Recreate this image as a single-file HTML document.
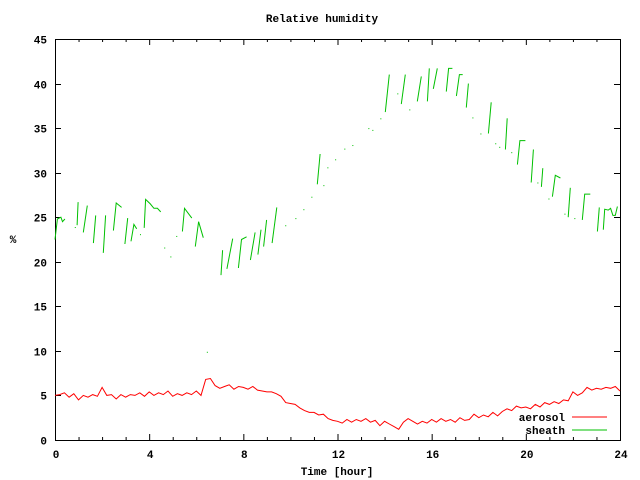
<!DOCTYPE html>
<html><head><meta charset="utf-8"><style>
html,body{margin:0;padding:0;background:#fff;}
svg{display:block;font-family:"Liberation Mono",monospace;font-size:11px;font-weight:bold;}
</style></head><body>
<svg id="chart" width="640" height="480" xmlns="http://www.w3.org/2000/svg">
<rect x="0" y="0" width="640" height="480" fill="#fff"/>
<text x="322" y="22" text-anchor="middle">Relative humidity</text>
<text x="337" y="475" text-anchor="middle">Time [hour]</text>
<text x="13" y="243" text-anchor="middle">%</text>
<g id="axes"></g>
<g id="series"></g>
<g>
<text x="565" y="421" text-anchor="end">aerosol</text>
<line x1="572" y1="417" x2="607" y2="417" stroke="#ff0000"/>
<text x="565" y="434" text-anchor="end">sheath</text>
<line x1="572" y1="430" x2="607" y2="430" stroke="#00c000"/>
</g>
</svg>
<script>
const xTicks=[0,4,8,12,16,20,24];
const yTicks=[0,5,10,15,20,25,30,35,40,45];
const aerosolTimes=[];for(let i=0;i<=120;i++)aerosolTimes.push(i*0.2);
const aerosolValues=[5.0,5.1,5.3,4.8,5.2,4.5,5.0,4.8,5.1,4.9,5.9,5.0,5.1,4.6,5.1,4.8,5.1,5.0,5.3,4.9,5.4,5.0,5.3,5.1,5.5,4.9,5.2,5.0,5.3,5.1,5.5,5.0,6.8,6.9,6.1,5.8,6.0,6.2,5.7,6.0,5.9,5.7,6.0,5.6,5.5,5.4,5.4,5.2,4.9,4.2,4.1,4.0,3.6,3.3,3.1,3.1,2.8,2.9,2.4,2.2,2.1,1.9,2.3,2.0,2.3,2.1,2.4,2.0,2.2,1.6,2.1,1.8,1.5,1.2,2.0,2.4,2.1,1.8,2.1,1.9,2.3,2.0,2.4,2.1,2.3,2.0,2.5,2.2,2.3,2.9,2.5,2.8,2.6,3.1,2.7,3.2,3.5,3.3,3.8,3.6,3.7,3.5,4.0,3.7,4.2,4.0,4.3,4.1,4.5,4.4,5.4,5.0,5.3,5.9,5.6,5.8,5.7,5.9,5.8,6.0,5.5];
const sheathSegments=[
[[0,22.5],[0.1,24.8],[0.25,25],[0.32,24.5],[0.42,24.8]],
[[0.84,23.9]],
[[0.94,24.1],[0.98,26.7]],
[[1.2,23.3],[1.37,26.3]],
[[1.63,22.1],[1.73,25.2]],
[[2.05,21.0],[2.15,25.2]],
[[2.48,23.5],[2.6,26.6],[2.83,26.1]],
[[2.97,22.0],[3.09,24.9]],
[[3.23,22.3],[3.35,24.2],[3.47,23.7]],
[[3.61,23.1]],
[[3.79,23.8],[3.85,27.0],[4.05,26.5],[4.2,26.0],[4.35,26.0],[4.49,25.6]],
[[4.64,21.6]],[[4.9,20.6]],[[5.15,22.9]],
[[5.41,23.4],[5.5,26.0],[5.81,24.9]],
[[5.96,21.7],[6.1,24.5],[6.3,22.7]],
[[6.45,9.9]],
[[7.05,18.5],[7.12,21.3]],
[[7.3,19.2],[7.55,22.6]],
[[7.79,19.3],[7.92,22.5],[8.14,22.8]],
[[8.3,20.2],[8.5,23.3]],
[[8.62,20.8],[8.75,23.6]],
[[8.86,21.7],[8.99,24.7]],
[[9.22,22.1],[9.42,26.1]],
[[9.78,24.1]],[[10.21,24.9]],[[10.55,25.9]],[[10.89,27.3]],
[[11.14,28.7],[11.26,32.1]],
[[11.4,28.6]],[[11.57,30.6]],[[11.9,31.5]],[[12.29,32.7]],[[12.63,33.1]],[[13.31,35.0]],[[13.48,34.8]],[[13.82,36.1]],
[[14.03,36.8],[14.2,41.0]],
[[14.54,38.9]],
[[14.71,37.7],[14.88,41.0]],
[[15.05,37.1]],
[[15.39,38.0],[15.56,40.8]],
[[15.82,38.0],[15.9,41.7]],
[[16.07,39.4],[16.24,41.7]],
[[16.62,39.1],[16.72,41.7],[16.88,41.7]],
[[17.05,38.6],[17.18,41.0],[17.32,41.0]],
[[17.47,37.3],[17.56,40.0]],
[[17.73,36.2]],[[18.07,34.4]],
[[18.41,34.4],[18.53,37.9]],
[[18.7,33.3]],[[18.87,32.9]],
[[19.13,32.6],[19.21,36.1]],
[[19.38,32.3]],
[[19.64,30.9],[19.75,33.6],[19.98,33.6]],
[[20.23,28.9],[20.32,32.6]],
[[20.49,28.9]],
[[20.66,28.4],[20.72,30.5]],
[[20.96,27.1]],
[[21.13,27.3],[21.25,29.7],[21.47,29.4]],
[[21.64,25.4]],
[[21.8,25.0],[21.89,28.3]],
[[22.06,24.9]],
[[22.4,24.7],[22.5,27.6],[22.74,27.6]],
[[23.04,23.4],[23.12,26.1]],
[[23.29,23.6],[23.35,25.9],[23.5,25.8],[23.6,26.0],[23.7,25.2],[23.8,25.2],[23.89,26.2]]
];
const L=55,R=620,T=39,B=440,XMAX=24,YMAX=45;
function sx(t){return L+(R-L)*t/XMAX;}
function sy(v){return B-(B-T)*v/YMAX;}
const NS="http://www.w3.org/2000/svg";
const axes=document.getElementById('axes');
const ser=document.getElementById('series');
function mk(tag,attrs,parent){const e=document.createElementNS(NS,tag);for(const k in attrs)e.setAttribute(k,attrs[k]);parent.appendChild(e);return e;}
for(let h=0;h<=XMAX;h++){
  const x=sx(h)+0.5, len=(h%4===0)?6:3;
  const a=mk('line',{x1:x,y1:B,x2:x,y2:B-len,stroke:'#000'},axes);
  
  
  const b=mk('line',{x1:x,y1:T,x2:x,y2:T+len,stroke:'#000'},axes);
  
  
}
xTicks.forEach(t=>{
  const e=mk('text',{x:sx(t)+1,y:458,'text-anchor':'middle'},axes);e.textContent=t;
  
  
});
yTicks.forEach(v=>{
  const y=Math.round(sy(v))+0.5;
  const a=mk('line',{x1:L,y1:y,x2:L+6,y2:y,stroke:'#000'},axes);
  
  
  const b=mk('line',{x1:R,y1:y,x2:R-6,y2:y,stroke:'#000'},axes);
  
  
  const e=mk('text',{x:47,y:y+4,'text-anchor':'end'},axes);e.textContent=v;
  
  
});
const frame=mk('rect',{x:L+0.5,y:T+0.5,width:R-L,height:B-T,fill:'none',stroke:'#000'},axes);


const pts=aerosolTimes.map((t,i)=>sx(t).toFixed(1)+','+sy(aerosolValues[i]).toFixed(1)).join(' ');
const aer=mk('polyline',{points:pts,fill:'none',stroke:'#ff0000','stroke-width':1},ser);


sheathSegments.forEach(seg=>{
  if(seg.length===1){
    const d=mk('rect',{x:sx(seg[0][0]),y:sy(seg[0][1]),width:1,height:1,fill:'#00c000'},ser);
    
    
  } else {
    const p=mk('polyline',{points:seg.map(q=>sx(q[0]).toFixed(1)+','+sy(q[1]).toFixed(1)).join(' '),fill:'none',stroke:'#00c000','stroke-width':1},ser);
    
    
  }
});
</script>
</body></html>
